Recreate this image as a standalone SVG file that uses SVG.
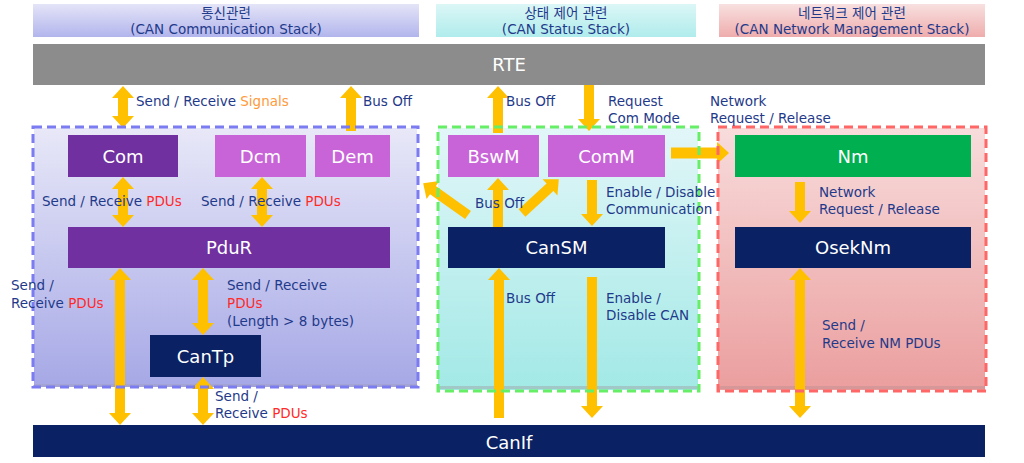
<svg xmlns="http://www.w3.org/2000/svg" width="1024" height="463" viewBox="0 0 1024 463">
<defs>
<linearGradient id="gHdrBlue" x1="0" y1="0" x2="0" y2="1"><stop offset="0" stop-color="#e4e4f8"/><stop offset="1" stop-color="#b2b5ec"/></linearGradient>
<linearGradient id="gHdrCyan" x1="0" y1="0" x2="0" y2="1"><stop offset="0" stop-color="#dcf6f6"/><stop offset="1" stop-color="#b0ecec"/></linearGradient>
<linearGradient id="gHdrRed" x1="0" y1="0" x2="0" y2="1"><stop offset="0" stop-color="#f8e0e0"/><stop offset="1" stop-color="#efacac"/></linearGradient>
<linearGradient id="gBoxBlue" x1="0" y1="0" x2="0" y2="1"><stop offset="0" stop-color="#e8e8f8"/><stop offset="1" stop-color="#a6a8e6"/></linearGradient>
<linearGradient id="gBoxCyan" x1="0" y1="0" x2="0" y2="1"><stop offset="0" stop-color="#e2f6f8"/><stop offset="1" stop-color="#a2e9e6"/></linearGradient>
<linearGradient id="gBoxRed" x1="0" y1="0" x2="0" y2="1"><stop offset="0" stop-color="#f8dcdc"/><stop offset="1" stop-color="#eb9e9e"/></linearGradient>
</defs>
<style>
.lbl{font-family:"DejaVu Sans","Noto Sans","Noto Sans CJK KR",sans-serif;font-size:13.5px;fill:#1f3a8a}
.hdr{font-family:"DejaVu Sans","Noto Sans CJK KR",sans-serif;font-size:13.5px;fill:#1f3a8a;text-anchor:middle}
.nt{font-family:"DejaVu Sans","Noto Sans",sans-serif;font-size:18px;fill:#ffffff;text-anchor:middle}
.red{fill:#ff2a2a}
.org{fill:#ff9a3c}
.arr{fill:#ffc000}
.purple{fill:#7030a0}
.pink{fill:#c864d8}
.navy{fill:#0a2264}
.green{fill:#00b050}
.brd{fill:none;stroke-width:3;stroke-dasharray:9 5}
</style>

<g id="headers">
<g id="hdr-comm">
<rect x="33" y="4" width="386" height="33" fill="url(#gHdrBlue)"/>
<text class="hdr" x="226" y="18">통신관련</text>
<text class="hdr" x="226" y="34">(CAN Communication Stack)</text>
</g>
<g id="hdr-status">
<rect x="436" y="4" width="260" height="33" fill="url(#gHdrCyan)"/>
<text class="hdr" x="566" y="18">상태 제어 관련</text>
<text class="hdr" x="566" y="34">(CAN Status Stack)</text>
</g>
<g id="hdr-nm">
<rect x="719" y="4" width="266" height="33" fill="url(#gHdrRed)"/>
<text class="hdr" x="852" y="18">네트워크 제어 관련</text>
<text class="hdr" x="852" y="34">(CAN Network Management Stack)</text>
</g>
</g>

<g id="RTE">
<rect x="33" y="44" width="952" height="41" fill="#8c8c8c"/>
<text class="nt" x="509" y="71" font-size="19">RTE</text>
</g>

<g id="containers">
<rect x="34" y="128" width="383" height="259" fill="url(#gBoxBlue)"/>
<rect x="34" y="384" width="383" height="3" fill="#a0a0c0" opacity="0.5"/>
<rect x="438" y="128" width="260" height="262" fill="url(#gBoxCyan)"/>
<rect x="438" y="386" width="260" height="3" fill="#a0b0b0" opacity="0.6"/>
<rect x="718" y="128" width="267" height="262" fill="url(#gBoxRed)"/>
<rect x="718" y="386" width="267" height="3" fill="#c09090" opacity="0.5"/>
</g>

<g id="connectors">
<path class="arr" d="M123 86 L134 98 L128 98 L128 116 L134 116 L123 128 L112 116 L118 116 L118 98 L112 98 Z"/>
<path class="arr" d="M351 86 L362 98 L356 98 L356 131 L346 131 L346 98 L340 98 Z"/>
<path class="arr" d="M498 86 L509 98 L503 98 L503 133 L493 133 L493 98 L487 98 Z"/>
<path class="arr" d="M589 131 L578 119 L584 119 L584 85 L594 85 L594 119 L600 119 Z"/>
<path class="arr" d="M729 153 L717 142 L717 147.5 L671 147.5 L671 158.5 L717 158.5 L717 164 Z"/>
<path class="arr" d="M123 177 L134 189 L128 189 L128 215 L134 215 L123 227 L112 215 L118 215 L118 189 L112 189 Z"/>
<path class="arr" d="M262 177 L273 189 L267 189 L267 215 L273 215 L262 227 L251 215 L257 215 L257 189 L251 189 Z"/>
<path class="arr" d="M498 178 L509 190 L503 190 L503 228 L493 228 L493 190 L487 190 Z"/>
<path class="arr" d="M592 226 L581 214 L587 214 L587 180 L597 180 L597 214 L603 214 Z"/>
<path class="arr" transform="translate(468 215) rotate(215.4)" d="M55 0 L43 -11 L43 -5 L0 -5 L0 5 L43 5 L43 11 Z"/>
<path class="arr" transform="translate(522 213) rotate(-42.6)" d="M50 0 L38 -11 L38 -5 L0 -5 L0 5 L38 5 L38 11 Z"/>
<path class="arr" d="M800 223 L789 211 L795 211 L795 182 L805 182 L805 211 L811 211 Z"/>
<path class="arr" d="M120 268 L131 280 L125 280 L125 413 L131 413 L120 425 L109 413 L115 413 L115 280 L109 280 Z"/>
<path class="arr" d="M203 268 L214 280 L208 280 L208 323 L214 323 L203 335 L192 323 L198 323 L198 280 L192 280 Z"/>
<path class="arr" d="M203 377 L214 389 L208 389 L208 413 L214 413 L203 425 L192 413 L198 413 L198 389 L192 389 Z"/>
<path class="arr" d="M499 268 L510 280 L504 280 L504 418 L494 418 L494 280 L488 280 Z"/>
<path class="arr" d="M592 418 L581 406 L587 406 L587 277 L597 277 L597 406 L603 406 Z"/>
<path class="arr" d="M800 268 L811 280 L805 280 L805 406 L811 406 L800 418 L789 406 L795 406 L795 280 L789 280 Z"/>
</g>

<g id="container-borders">
<rect class="brd" x="33" y="127" width="385" height="260" stroke="#7b7bf2"/>
<rect class="brd" x="438" y="127" width="261" height="264" stroke="#66ee66"/>
<rect class="brd" x="718" y="127" width="268" height="264" stroke="#ff6666"/>
</g>

<g id="Com"><rect class="purple" x="68" y="135" width="110" height="42"/><text class="nt" x="123" y="162.5">Com</text></g>
<g id="Dcm"><rect class="pink" x="215" y="135" width="91" height="42"/><text class="nt" x="260.5" y="162.5">Dcm</text></g>
<g id="Dem"><rect class="pink" x="315" y="135" width="75" height="42"/><text class="nt" x="352.5" y="162.5">Dem</text></g>
<g id="PduR"><rect class="purple" x="68" y="227" width="322" height="41"/><text class="nt" x="229" y="254">PduR</text></g>
<g id="CanTp"><rect class="navy" x="150" y="335" width="111" height="42"/><text class="nt" x="205.5" y="362.5">CanTp</text></g>
<g id="BswM"><rect class="pink" x="448" y="135" width="91" height="42"/><text class="nt" x="493.5" y="162.5">BswM</text></g>
<g id="ComM"><rect class="pink" x="548" y="135" width="117" height="42"/><text class="nt" x="606.5" y="162.5">ComM</text></g>
<g id="CanSM"><rect class="navy" x="448" y="227" width="217" height="41"/><text class="nt" x="556.5" y="254">CanSM</text></g>
<g id="Nm"><rect class="green" x="735" y="135" width="236" height="42"/><text class="nt" x="853" y="162.5">Nm</text></g>
<g id="OsekNm"><rect class="navy" x="735" y="227" width="236" height="41"/><text class="nt" x="853" y="254">OsekNm</text></g>
<g id="CanIf"><rect class="navy" x="33" y="425" width="952" height="32"/><text class="nt" x="509" y="448.5" font-size="19">CanIf</text></g>

<g id="labels">
<text class="lbl" x="136" y="106">Send / Receive <tspan class="org">Signals</tspan></text>
<text class="lbl" x="363" y="106">Bus Off</text>
<text class="lbl" x="506" y="106">Bus Off</text>
<text class="lbl" x="608" y="106">Request</text>
<text class="lbl" x="608" y="123">Com Mode</text>
<text class="lbl" x="710" y="106">Network</text>
<text class="lbl" x="710" y="123">Request / Release</text>
<text class="lbl" x="42" y="206">Send / Receive <tspan class="red">PDUs</tspan></text>
<text class="lbl" x="201" y="206">Send / Receive <tspan class="red">PDUs</tspan></text>
<text class="lbl" x="475" y="208">Bus Off</text>
<text class="lbl" x="606" y="197">Enable / Disable</text>
<text class="lbl" x="606" y="214">Communication</text>
<text class="lbl" x="819" y="197">Network</text>
<text class="lbl" x="819" y="214">Request / Release</text>
<text class="lbl" x="11" y="290">Send /</text>
<text class="lbl" x="11" y="308">Receive <tspan class="red">PDUs</tspan></text>
<text class="lbl" x="227" y="290">Send / Receive</text>
<text class="lbl red" x="227" y="308">PDUs</text>
<text class="lbl" x="227" y="326">(Length &gt; 8 bytes)</text>
<text class="lbl" x="215" y="401">Send /</text>
<text class="lbl" x="215" y="418">Receive <tspan class="red">PDUs</tspan></text>
<text class="lbl" x="506" y="303">Bus Off</text>
<text class="lbl" x="606" y="303">Enable /</text>
<text class="lbl" x="606" y="320">Disable CAN</text>
<text class="lbl" x="822" y="330">Send /</text>
<text class="lbl" x="822" y="348">Receive NM PDUs</text>
</g>
</svg>
